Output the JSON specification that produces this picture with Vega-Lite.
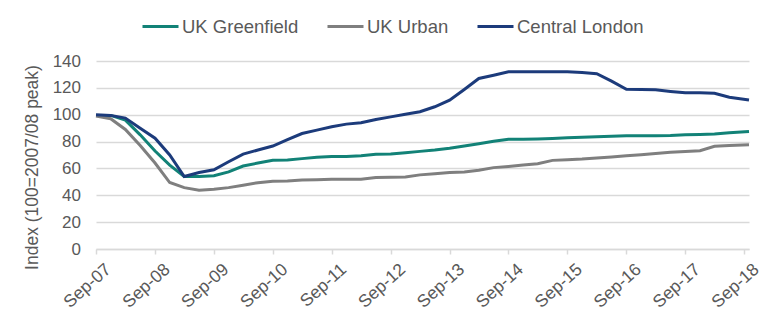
{
  "$schema": "https://vega.github.io/schema/vega-lite/v6.json",
  "autosize": "none",
  "width": 653,
  "height": 188,
  "padding": {"left": 96, "top": 61, "right": 31, "bottom": 81},
  "background": "white",
  "config": {
    "font": "Liberation Sans",
    "view": {"stroke": null},
    "axis": {"labelColor": "#595959", "titleColor": "#595959", "labelFont": "Liberation Sans", "titleFont": "Liberation Sans"},
    "legend": {"labelColor": "#595959", "labelFont": "Liberation Sans"}
  },
  "data": {
    "values": [
      {"date": "2007-09-01", "UK Greenfield": 99.5, "UK Urban": 99, "Central London": 100},
      {"date": "2007-12-01", "UK Greenfield": 99.5, "UK Urban": 97, "Central London": 99.5},
      {"date": "2008-03-01", "UK Greenfield": 96, "UK Urban": 89, "Central London": 97.5},
      {"date": "2008-06-01", "UK Greenfield": 85, "UK Urban": 77, "Central London": 90},
      {"date": "2008-09-01", "UK Greenfield": 73, "UK Urban": 64, "Central London": 82.5},
      {"date": "2008-12-01", "UK Greenfield": 62.5, "UK Urban": 49.5, "Central London": 70},
      {"date": "2009-03-01", "UK Greenfield": 54, "UK Urban": 45.7, "Central London": 54},
      {"date": "2009-06-01", "UK Greenfield": 54, "UK Urban": 43.8, "Central London": 57},
      {"date": "2009-09-01", "UK Greenfield": 54.5, "UK Urban": 44.5, "Central London": 59},
      {"date": "2009-12-01", "UK Greenfield": 57.4, "UK Urban": 45.7, "Central London": 65},
      {"date": "2010-03-01", "UK Greenfield": 61.8, "UK Urban": 47.5, "Central London": 70.7},
      {"date": "2010-06-01", "UK Greenfield": 64, "UK Urban": 49.4, "Central London": 73.7},
      {"date": "2010-09-01", "UK Greenfield": 66, "UK Urban": 50.5, "Central London": 76.7},
      {"date": "2010-12-01", "UK Greenfield": 66.3, "UK Urban": 50.7, "Central London": 81.5},
      {"date": "2011-03-01", "UK Greenfield": 67.3, "UK Urban": 51.4, "Central London": 86},
      {"date": "2011-06-01", "UK Greenfield": 68.3, "UK Urban": 51.6, "Central London": 88.5},
      {"date": "2011-09-01", "UK Greenfield": 68.8, "UK Urban": 52, "Central London": 91},
      {"date": "2011-12-01", "UK Greenfield": 68.8, "UK Urban": 52, "Central London": 93},
      {"date": "2012-03-01", "UK Greenfield": 69.5, "UK Urban": 52, "Central London": 94},
      {"date": "2012-06-01", "UK Greenfield": 70.5, "UK Urban": 53.2, "Central London": 96.5},
      {"date": "2012-09-01", "UK Greenfield": 70.7, "UK Urban": 53.4, "Central London": 98.4},
      {"date": "2012-12-01", "UK Greenfield": 71.7, "UK Urban": 53.6, "Central London": 100.4},
      {"date": "2013-03-01", "UK Greenfield": 72.7, "UK Urban": 55.2, "Central London": 102.2},
      {"date": "2013-06-01", "UK Greenfield": 73.7, "UK Urban": 56.1, "Central London": 105.9},
      {"date": "2013-09-01", "UK Greenfield": 75, "UK Urban": 56.9, "Central London": 110.8},
      {"date": "2013-12-01", "UK Greenfield": 76.7, "UK Urban": 57.4, "Central London": 118.8},
      {"date": "2014-03-01", "UK Greenfield": 78.4, "UK Urban": 58.6, "Central London": 127},
      {"date": "2014-06-01", "UK Greenfield": 80.2, "UK Urban": 60.6, "Central London": 129.4},
      {"date": "2014-09-01", "UK Greenfield": 81.7, "UK Urban": 61.5, "Central London": 132},
      {"date": "2014-12-01", "UK Greenfield": 81.8, "UK Urban": 62.5, "Central London": 132},
      {"date": "2015-03-01", "UK Greenfield": 82, "UK Urban": 63.5, "Central London": 132},
      {"date": "2015-06-01", "UK Greenfield": 82.3, "UK Urban": 66, "Central London": 132},
      {"date": "2015-09-01", "UK Greenfield": 82.8, "UK Urban": 66.5, "Central London": 132},
      {"date": "2015-12-01", "UK Greenfield": 83.2, "UK Urban": 67, "Central London": 131.5},
      {"date": "2016-03-01", "UK Greenfield": 83.6, "UK Urban": 67.8, "Central London": 130.5},
      {"date": "2016-06-01", "UK Greenfield": 84, "UK Urban": 68.6, "Central London": 125},
      {"date": "2016-09-01", "UK Greenfield": 84.3, "UK Urban": 69.4, "Central London": 119},
      {"date": "2016-12-01", "UK Greenfield": 84.3, "UK Urban": 70.2, "Central London": 118.8},
      {"date": "2017-03-01", "UK Greenfield": 84.3, "UK Urban": 71.2, "Central London": 118.5},
      {"date": "2017-06-01", "UK Greenfield": 84.5, "UK Urban": 72, "Central London": 117.3},
      {"date": "2017-09-01", "UK Greenfield": 85, "UK Urban": 72.6, "Central London": 116.3},
      {"date": "2017-12-01", "UK Greenfield": 85.3, "UK Urban": 73.2, "Central London": 116.3},
      {"date": "2018-03-01", "UK Greenfield": 85.6, "UK Urban": 76.5, "Central London": 116},
      {"date": "2018-06-01", "UK Greenfield": 86.5, "UK Urban": 77, "Central London": 113},
      {"date": "2018-10-01", "UK Greenfield": 87.5, "UK Urban": 77.7, "Central London": 111}
    ]
  },
  "transform": [
    {"fold": ["UK Greenfield", "UK Urban", "Central London"], "as": ["series", "value"]}
  ],
  "mark": {"type": "line", "strokeWidth": 3, "interpolate": "linear"},
  "encoding": {
    "x": {
      "field": "date",
      "type": "temporal",
      "scale": {"type": "utc", "domain": [{"year": 2007, "month": 9, "date": 1, "utc": true}, {"year": 2018, "month": 10, "date": 1, "utc": true}]},
      "axis": {
        "title": null,
        "values": [
          {"year": 2007, "month": 9, "date": 1, "utc": true},
          {"year": 2008, "month": 9, "date": 1, "utc": true},
          {"year": 2009, "month": 9, "date": 1, "utc": true},
          {"year": 2010, "month": 9, "date": 1, "utc": true},
          {"year": 2011, "month": 9, "date": 1, "utc": true},
          {"year": 2012, "month": 9, "date": 1, "utc": true},
          {"year": 2013, "month": 9, "date": 1, "utc": true},
          {"year": 2014, "month": 9, "date": 1, "utc": true},
          {"year": 2015, "month": 9, "date": 1, "utc": true},
          {"year": 2016, "month": 9, "date": 1, "utc": true},
          {"year": 2017, "month": 9, "date": 1, "utc": true},
          {"year": 2018, "month": 9, "date": 1, "utc": true}
        ],
        "format": "%b-%y",
        "labelAngle": -42,
        "labelAlign": "right",
        "labelBaseline": "top",
        "labelFontSize": 17.5,
        "labelPadding": 6,
        "labelOffset": 6,
        "labelFlush": false,
        "labelOverlap": false,
        "labelBound": false,
        "grid": false,
        "domainColor": "#d9d9d9",
        "domainWidth": 1.5,
        "tickColor": "#d9d9d9",
        "tickSize": 5,
        "tickWidth": 1.5
      }
    },
    "y": {
      "field": "value",
      "type": "quantitative",
      "scale": {"domain": [0, 140], "nice": false, "zero": true},
      "axis": {
        "title": "Index (100=2007/08 peak)",
        "titleFontSize": 17.5,
        "titleFontWeight": "normal",
        "titleX": -58.5,
        "titleY": 106,
        "titleBaseline": "alphabetic",
        "titleAngle": -90,
        "titleAlign": "center",
        "values": [0, 20, 40, 60, 80, 100, 120, 140],
        "labelFontSize": 17,
        "labelPadding": 15.5,
        "domain": false,
        "ticks": false,
        "gridColor": "#d9d9d9",
        "gridWidth": 1.5
      }
    },
    "color": {
      "field": "series",
      "type": "nominal",
      "scale": {"domain": ["UK Greenfield", "UK Urban", "Central London"], "range": ["#128277", "#7f7f7f", "#1c3b7b"]},
      "legend": {
        "title": null,
        "orient": "none",
        "direction": "horizontal",
        "legendX": 45,
        "legendY": -54,
        "symbolType": "stroke",
        "symbolSize": 1296,
        "symbolStrokeWidth": 3,
        "labelFontSize": 18.5,
        "labelOffset": 2,
        "columnPadding": 22
      }
    }
  }
}
